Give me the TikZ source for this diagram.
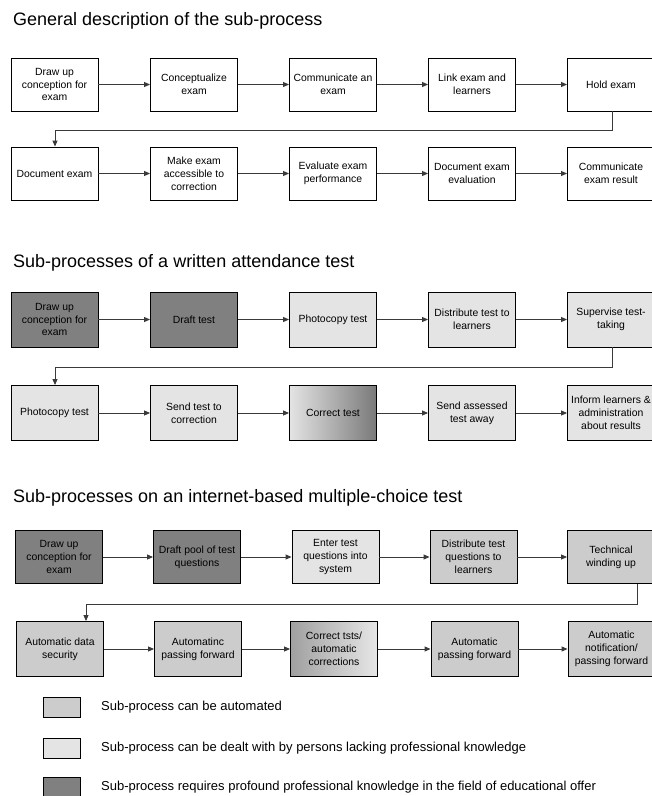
\documentclass[tikz,border=0pt]{standalone}
\usepackage{fontspec}
\setmainfont{Liberation Sans}
\usetikzlibrary{arrows.meta}
\definecolor{gLight}{HTML}{E4E4E4}
\definecolor{gMed}{HTML}{CCCCCC}
\definecolor{gDark}{HTML}{808080}
\definecolor{lineC}{HTML}{3A3A3A}
\tikzset{
  box/.style={draw=black, line width=0.9pt, rectangle, minimum width=87pt, minimum height=53pt,
    align=center, inner sep=1pt, font=\fontsize{10.4}{12.8}\selectfont},
  tall/.style={minimum height=55pt},
  title/.style={anchor=base west, inner sep=0pt, font=\fontsize{18}{20}\selectfont},
  legtext/.style={anchor=west, inner sep=0pt, font=\fontsize{13}{15}\selectfont},
  legbox/.style={draw=black, line width=0.9pt, rectangle, minimum width=37pt, minimum height=20pt, inner sep=0pt},
  arr/.style={draw=lineC, line width=0.9pt, -{Triangle[length=6pt,width=5pt]}},
}
\begin{document}
\begin{tikzpicture}[x=1pt,y=-1pt]
\useasboundingbox (0,0) rectangle (652,796);
% ---------- Section 1
\node[title] (t1) at (13,25) {General description of the sub-process};
\node[box] (a1) at (54.5,84.5) {Draw up\\conception for\\exam};
\node[box] (a2) at (194,84.5) {Conceptualize\\exam};
\node[box] (a3) at (333,84.5) {Communicate an\\exam};
\node[box] (a4) at (472,84.5) {Link exam and\\learners};
\node[box] (a5) at (611,84.5) {Hold exam};
\node[box] (b1) at (54.5,173.5) {Document exam};
\node[box] (b2) at (194,173.5) {Make exam\\accessible to\\correction};
\node[box] (b3) at (333,173.5) {Evaluate exam\\performance};
\node[box] (b4) at (472,173.5) {Document exam\\evaluation};
\node[box] (b5) at (611,173.5) {Communicate\\exam result};
\draw[arr] (a1) -- (a2);
\draw[arr] (a2) -- (a3);
\draw[arr] (a3) -- (a4);
\draw[arr] (a4) -- (a5);
\coordinate (w1a) at (612,130);
\coordinate (w1b) at (55,130);
\draw[arr] (a5.south -| w1a) -- (w1a) -- (w1b) -- (w1b |- b1.north);
\draw[arr] (b1) -- (b2);
\draw[arr] (b2) -- (b3);
\draw[arr] (b3) -- (b4);
\draw[arr] (b4) -- (b5);
% ---------- Section 2
\node[title] (t2) at (13,267) {Sub-processes of a written attendance test};
\node[box,tall,fill=gDark] (c1) at (54.5,319.5) {Draw up\\conception for\\exam};
\node[box,tall,fill=gDark] (c2) at (194,319.5) {Draft test};
\node[box,tall,fill=gLight] (c3) at (333,319.5) {Photocopy test};
\node[box,tall,fill=gLight] (c4) at (472,319.5) {Distribute test to\\learners};
\node[box,tall,fill=gLight] (c5) at (611,319.5) {Supervise test-\\taking};
\node[box,tall,fill=gLight] (d1) at (54.5,413) {Photocopy test};
\node[box,tall,fill=gLight] (d2) at (194,413) {Send test to\\correction};
\node[box,tall,left color=gLight,right color=gDark!95!black] (d3) at (333,413) {Correct test};
\node[box,tall,fill=gLight] (d4) at (472,413) {Send assessed\\test away};
\node[box,tall,fill=gLight] (d5) at (611,413) {Inform learners \&\\administration\\about results};
\draw[arr] (c1) -- (c2);
\draw[arr] (c2) -- (c3);
\draw[arr] (c3) -- (c4);
\draw[arr] (c4) -- (c5);
\coordinate (w2a) at (612,367);
\coordinate (w2b) at (55,367);
\draw[arr] (c5.south -| w2a) -- (w2a) -- (w2b) -- (w2b |- d1.north);
\draw[arr] (d1) -- (d2);
\draw[arr] (d2) -- (d3);
\draw[arr] (d3) -- (d4);
\draw[arr] (d4) -- (d5);
% ---------- Section 3
\node[title] (t3) at (13,502) {Sub-processes on an internet-based multiple-choice test};
\node[box,fill=gDark] (e1) at (59,557) {Draw up\\conception for\\exam};
\node[box,fill=gDark] (e2) at (197,557) {Draft pool of test\\questions};
\node[box,fill=gLight] (e3) at (335.5,557) {Enter test\\questions into\\system};
\node[box,fill=gMed] (e4) at (473.5,557) {Distribute test\\questions to\\learners};
\node[box,fill=gMed] (e5) at (611,557) {Technical\\winding up};
\node[box,tall,fill=gMed] (f1) at (60,649) {Automatic data\\security};
\node[box,tall,fill=gMed] (f2) at (198,649) {Automatinc\\passing forward};
\node[box,tall,left color=gDark!75!white,right color=gLight!90!white] (f3) at (334,649) {Correct tsts/\\automatic\\corrections};
\node[box,tall,fill=gMed] (f4) at (474.5,649) {Automatic\\passing forward};
\node[box,tall,fill=gMed] (f5) at (611.5,649) {Automatic\\notification/\\passing forward};
\draw[arr] (e1) -- (e2);
\draw[arr] (e2) -- (e3);
\draw[arr] (e3) -- (e4);
\draw[arr] (e4) -- (e5);
\coordinate (w3a) at (637,604);
\coordinate (w3b) at (86,604);
\draw[arr] (e5.south -| w3a) -- (w3a) -- (w3b) -- (w3b |- f1.north);
\draw[arr] (f1) -- (f2);
\draw[arr] (f2) -- (f3);
\draw[arr] (f3) -- (f4);
\draw[arr] (f4) -- (f5);
% ---------- Legend
\node[legbox,fill=gMed] (l1) at (61.5,707) {};
\node[legbox,fill=gLight] (l2) at (61.5,748) {};
\node[legbox,fill=gDark] (l3) at (61.5,787) {};
\node[legtext] (lt1) at (101,707) {Sub-process can be automated};
\node[legtext] (lt2) at (101,748) {Sub-process can be dealt with by persons lacking professional knowledge};
\node[legtext] (lt3) at (101,787) {Sub-process requires profound professional knowledge in the field of educational offer};
\end{tikzpicture}
\end{document}
